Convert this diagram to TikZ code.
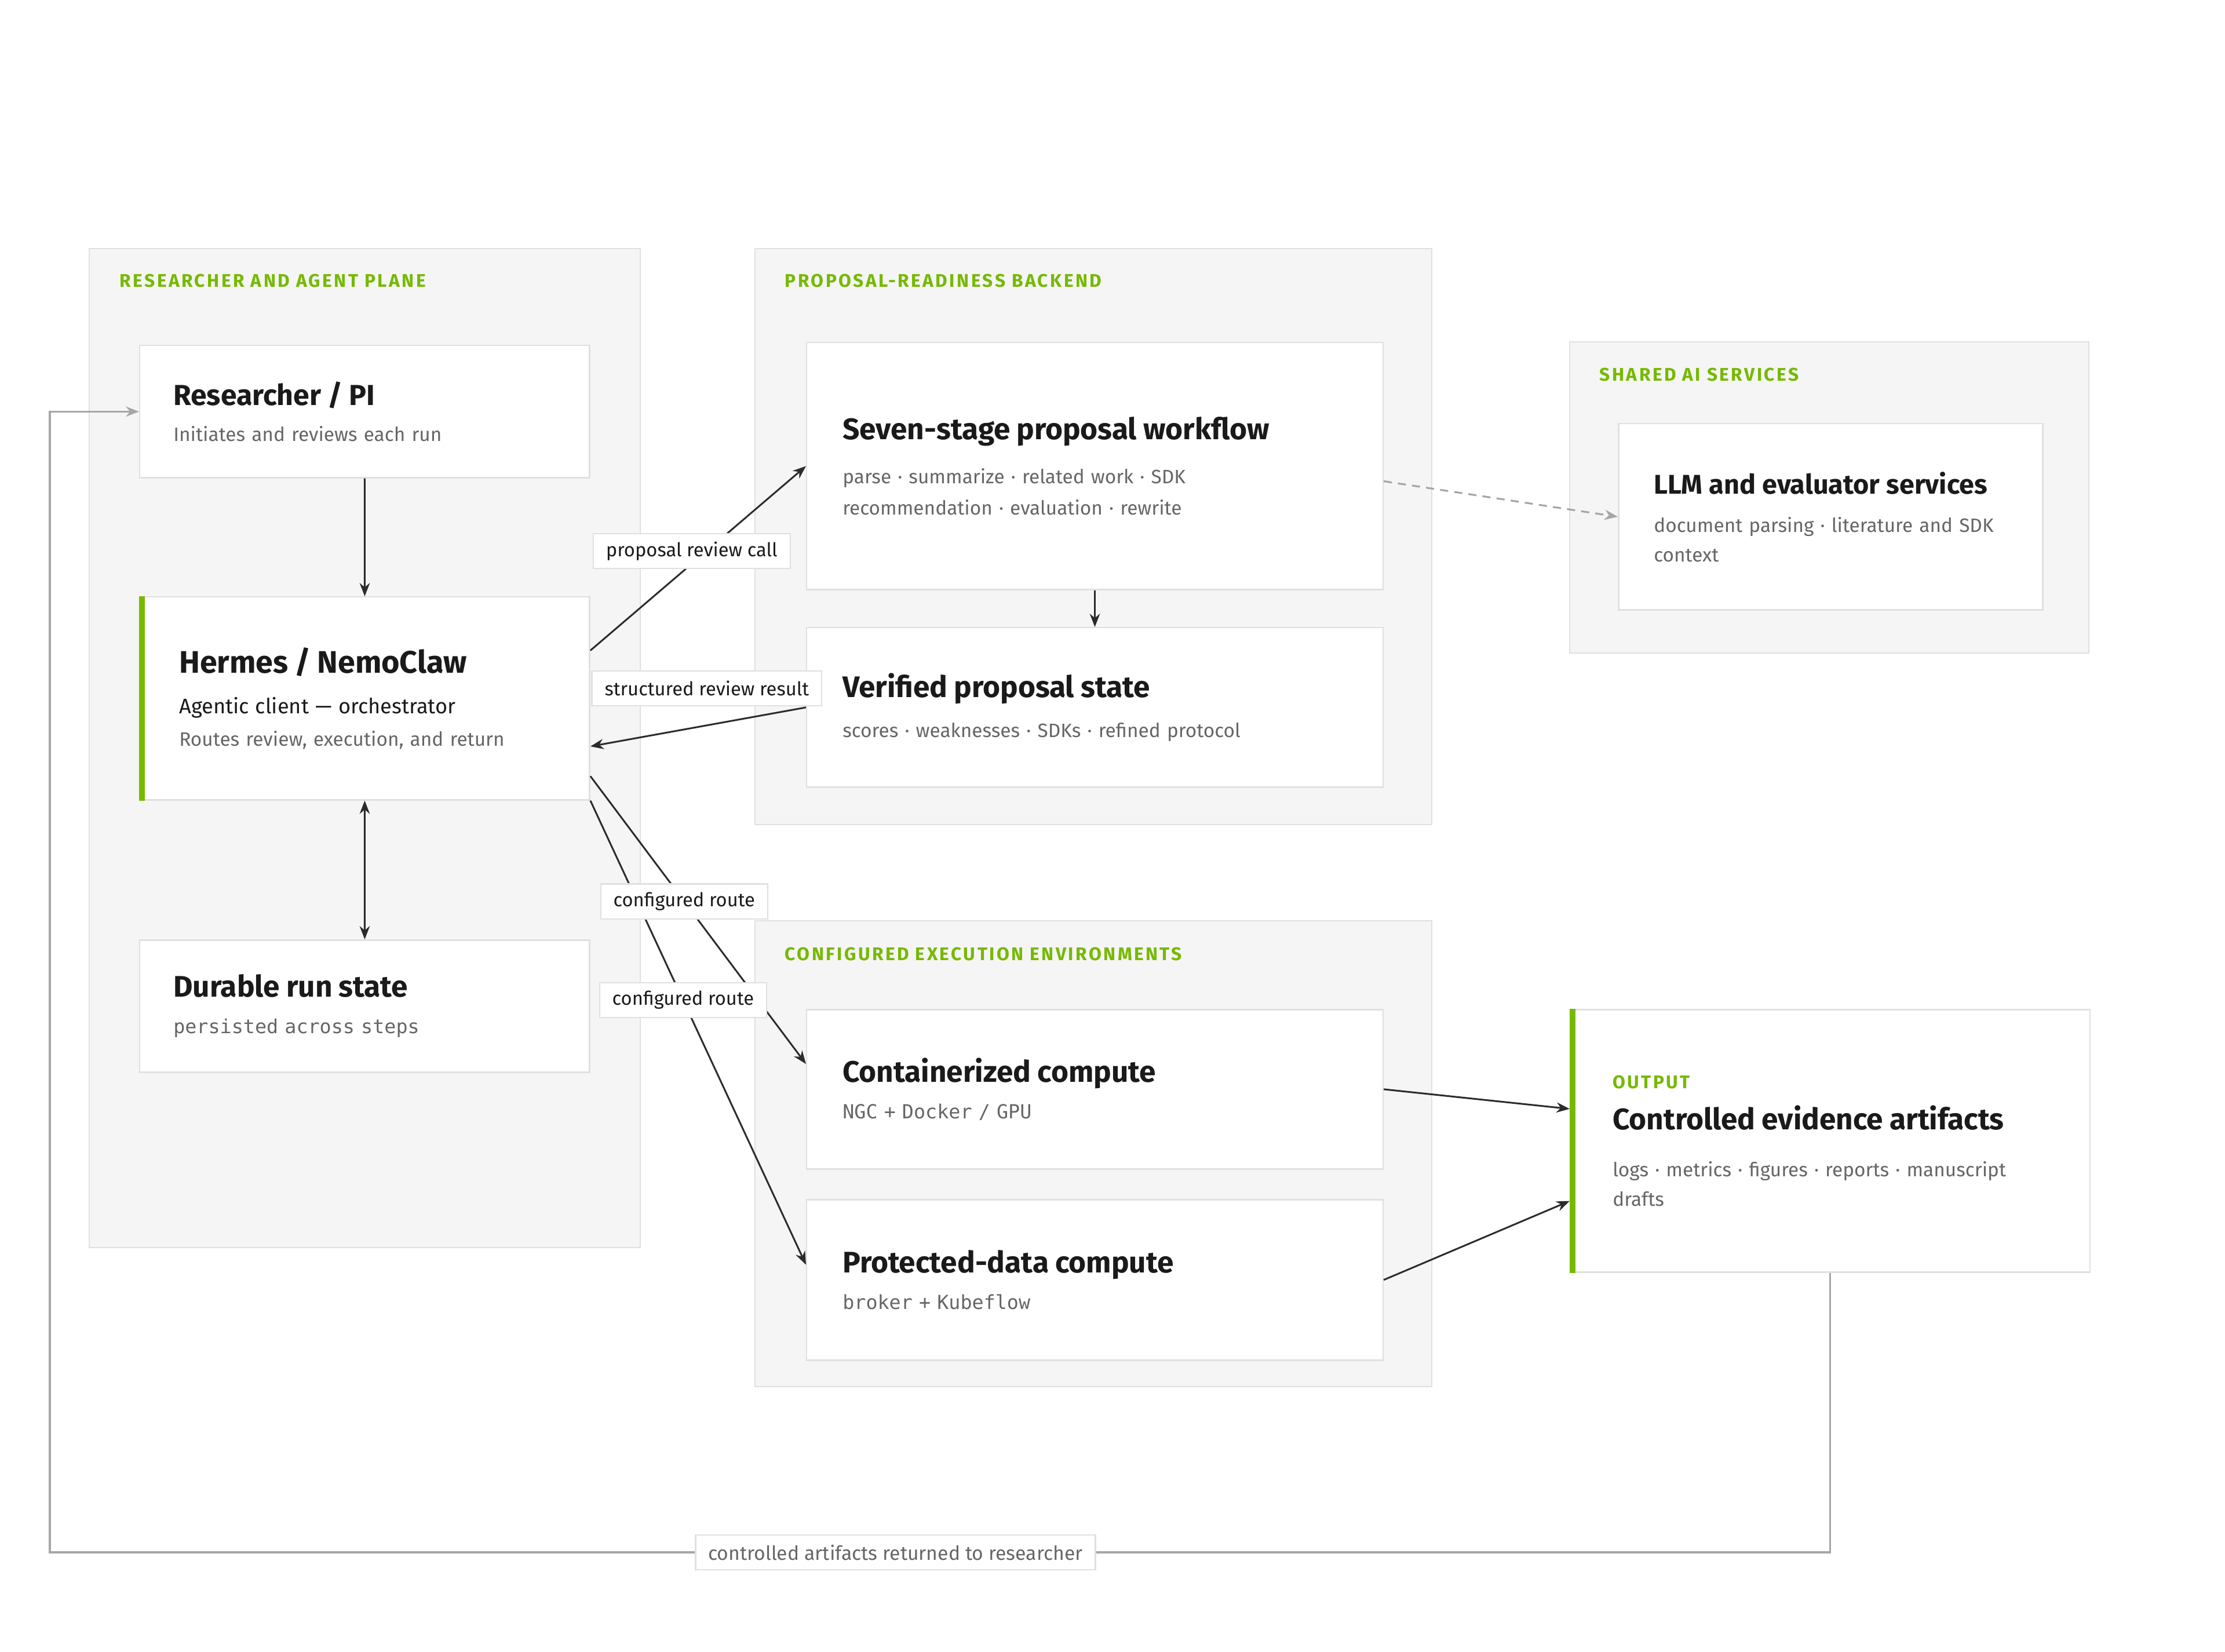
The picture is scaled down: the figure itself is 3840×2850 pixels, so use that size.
\documentclass[tikz,border=0pt]{standalone}
\usepackage{fontspec}
\setmainfont{Fira Sans}
\setmonofont{DejaVu Sans Mono}
\usepackage{tikz}
\usetikzlibrary{arrows.meta}

\definecolor{nvgreen}{HTML}{76B900}
\definecolor{ink}{HTML}{1A1A1A}
\definecolor{mute}{HTML}{666666}
\definecolor{panel}{HTML}{F5F5F5}
\definecolor{rim}{HTML}{E0E0E0}
\definecolor{wirec}{HTML}{2B2B2B}
\definecolor{loopc}{HTML}{A6A6A6}

\newcommand{\hd}[1]{{\fontsize{14.6}{17}\selectfont\bfseries\color{ink}#1}}
\newcommand{\desc}[1]{{\color{mute}#1}}
\newcommand{\code}[1]{{\ttfamily\color{mute}#1}}
\newcommand{\kicker}[1]{{\fontsize{9}{10}\selectfont\bfseries\addfontfeatures{LetterSpace=11}\color{nvgreen}#1}}

\begin{document}
\begin{tikzpicture}[x=0.01cm, y=-0.01cm, >={Stealth[length=6.5pt,width=5pt]},
    grp/.style={draw=rim, fill=panel, line width=0.6pt},
    ghead/.style={anchor=west, inner sep=0pt},
    card/.style={draw=rim, fill=white, line width=0.7pt, anchor=north west, align=left,
        inner xsep=0.58cm, font=\fontsize{9.5}{14.5}\selectfont},
    accent/.style={draw=nvgreen, line width=0.1cm},
    wire/.style={draw=wirec, line width=0.85pt},
    loopw/.style={draw=loopc, line width=0.9pt},
    tag/.style={draw=rim, fill=white, line width=0.6pt, font=\fontsize{9.3}{11}\selectfont,
        text=ink, inner xsep=0.22cm, minimum height=0.6cm}]
        \fill[white] (0,0) rectangle (3840,2850);
        \useasboundingbox (0,0) rectangle (3840,2850);

        \draw[grp] (154,429) rectangle (1105,2153);
        \draw[grp] (1303,429) rectangle (2471,1423);
        \draw[grp] (2709,590) rectangle (3605,1127);
        \draw[grp] (1303,1589) rectangle (2471,2393);
        \node[ghead] (h1) at (206,485) {\kicker{RESEARCHER AND AGENT PLANE}};
        \node[ghead] (h2) at (1354,485) {\kicker{PROPOSAL-READINESS BACKEND}};
        \node[ghead] (h3) at (2760,647) {\kicker{SHARED AI SERVICES}};
        \node[ghead] (h4) at (1354,1646) {\kicker{CONFIGURED EXECUTION ENVIRONMENTS}};

        \node[card, minimum width=7.76cm, minimum height=2.28cm, text width=6.6cm] (res) at (240,595)
            {{\fontsize{14.2}{17}\selectfont\bfseries\color{ink}Researcher / PI}\\[3pt]\desc{Initiates and reviews each run}};
        \node[card, minimum width=7.76cm, minimum height=3.5cm, text width=6.4cm, inner xsep=0.68cm] (herm) at (240,1029)
            {{\fontsize{15.3}{17}\selectfont\bfseries\color{ink}Hermes / NemoClaw}\\[5.5pt]
             {\fontsize{10.3}{14.5}\selectfont\color{ink}Agentic client — orchestrator}\\[1.4pt]
             \desc{Routes review, execution, and return}};
        \node[card, minimum width=7.76cm, minimum height=2.28cm, text width=6.6cm] (dur) at (240,1621)
            {\hd{Durable run state}\\[3.5pt]\code{persisted across steps}};
        \draw[accent] ([xshift=0.05cm]herm.north west) -- ([xshift=0.05cm]herm.south west);

        \node[card, minimum width=9.94cm, minimum height=4.26cm, text width=8.7cm] (seven) at (1391,590)
            {\hd{Seven-stage proposal workflow}\\[7pt]
             \desc{parse · summarize · related work · SDK}\\[1pt]
             \desc{recommendation · evaluation · rewrite}};
        \node[card, minimum width=9.94cm, minimum height=2.75cm, text width=8.7cm] (ver) at (1391,1082)
            {\hd{Verified proposal state}\\[5pt]\desc{scores · weaknesses · SDKs · refined protocol}};
        \node[card, minimum width=7.32cm, minimum height=3.21cm, text width=6.1cm] (llm) at (2792,730)
            {{\fontsize{13.3}{17}\selectfont\bfseries\color{ink}LLM and evaluator services}\\[4.3pt]
             \desc{document parsing · literature and SDK}\\
             \desc{context}};
        \node[card, minimum width=9.94cm, minimum height=2.75cm, text width=8.7cm] (cont) at (1391,1741)
            {\hd{Containerized compute}\\[3.6pt]\code{NGC + Docker / GPU}};
        \node[card, minimum width=9.94cm, minimum height=2.77cm, text width=8.7cm] (prot) at (1391,2069)
            {\hd{Protected-data compute}\\[3.5pt]\code{broker + Kubeflow}};
        \node[card, minimum width=8.96cm, minimum height=4.53cm, text width=7.5cm, inner xsep=0.71cm] (out) at (2709,1741)
            {\kicker{OUTPUT}\\[5.5pt]
             \hd{Controlled evidence artifacts}\\[8.5pt]
             \desc{logs · metrics · figures · reports · manuscript}\\
             \desc{drafts}};
        \draw[accent] ([xshift=0.05cm]out.north west) -- ([xshift=0.05cm]out.south west);

        \draw[wire,->] (res.south) -- (herm.north);
        \draw[wire,<->] (herm.south) -- (dur.north);
        \draw[wire,->] (herm.12) -- coordinate[pos=.47] (c1) (seven.west);
        \draw[wire,->] (ver.west) -- coordinate[pos=.46] (c2) (herm.-12);
        \draw[wire,->] (seven.south) -- (ver.north);
        \draw[loopw,dashed,dash pattern=on 4pt off 3pt,->] (seven.-3.5) -- (llm.west);
        \draw[wire,->] (herm.-19) -- coordinate[pos=.435] (c3) (cont.175);
        \draw[wire,->] (herm.south east) -- coordinate[pos=.43] (c4) (prot.177);
        \draw[wire,->] (cont.east) -- (out.173);
        \draw[wire,->] (prot.east) -- (out.193);
        \coordinate (back) at (86,2679);
        \draw[loopw,->] (out.south) |- coordinate[pos=.7625] (c5) (back) |- (res.west);

        \node[tag] (t1) at ([yshift=0.22cm]c1) {proposal review call};
        \node[tag] (t2) at ([yshift=0.64cm]c2) {structured review result};
        \node[tag] (t3) at (c3) {configured route};
        \node[tag] (t4) at (c4) {configured route};
        \node[tag, text=mute, font=\fontsize{9.6}{11}\selectfont] (t5) at (c5) {controlled artifacts returned to researcher};
\end{tikzpicture}
\end{document}
